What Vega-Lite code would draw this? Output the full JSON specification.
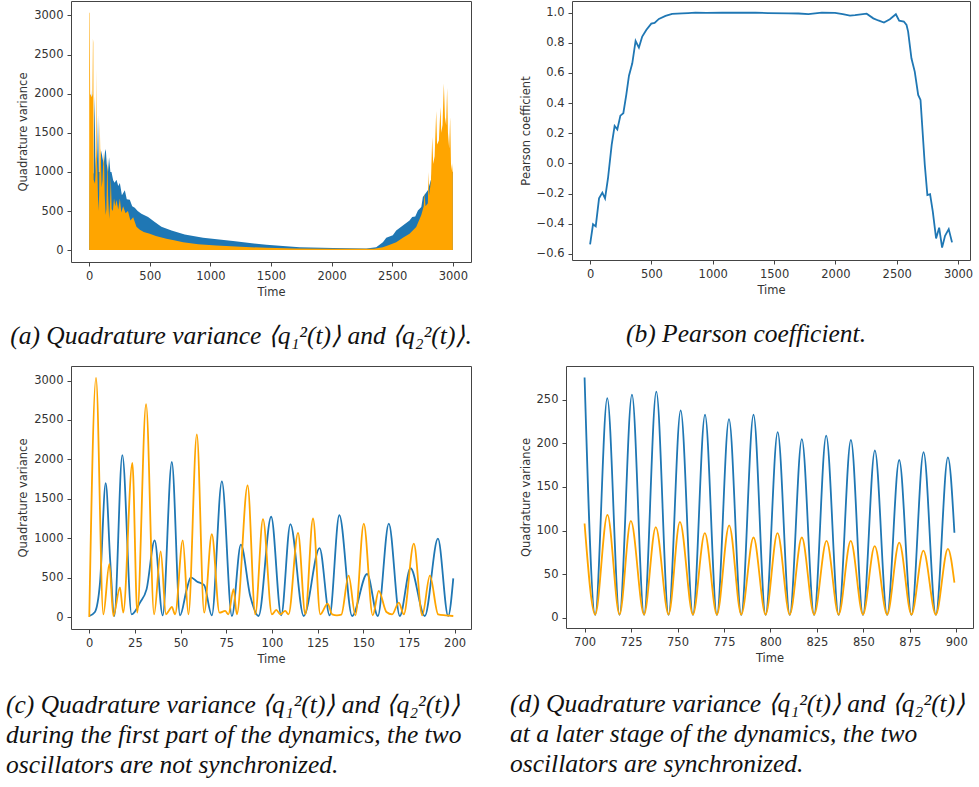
{
  "$schema": "https://vega.github.io/schema/vega-lite/v6.json",
  "background": "white",
  "padding": {"left": 5, "top": 0, "right": 0, "bottom": 0},
  "spacing": 15,
  "vconcat": [
    {
      "bounds": "flush",
      "spacing": 101,
      "hconcat": [
        {
          "width": 400, "height": 261,
          "data": {"name": "qa"},
          "mark": {"type": "area", "interpolate": "linear"},
          "encoding": {
            "x": {"field": "t", "type": "quantitative", "scale": {"domain": [-150, 3150], "nice": false, "zero": false}, "axis": {"title": "Time", "values": [0, 500, 1000, 1500, 2000, 2500, 3000], "format": "d"}},
            "y": {"field": "v", "type": "quantitative", "stack": null, "scale": {"domain": [-152, 3185], "nice": false, "zero": false}, "axis": {"title": "Quadrature variance", "values": [0, 500, 1000, 1500, 2000, 2500, 3000], "format": "d"}},
            "color": {"field": "s", "type": "nominal", "scale": {"domain": ["q1", "q2"], "range": ["#1f77b4", "#ffa500"]}, "legend": null}
          },
          "title": {"text": "(a) Quadrature variance ⟨q₁²(t)⟩ and ⟨q₂²(t)⟩.", "anchor": "middle", "dx": -30}
        },
        {
          "width": 398, "height": 259,
          "data": {"name": "pb"},
          "mark": {"type": "line", "color": "#1f77b4", "strokeWidth": 1.8},
          "encoding": {
            "x": {"field": "t", "type": "quantitative", "scale": {"domain": [-147.5, 3097.5], "nice": false, "zero": false}, "axis": {"title": "Time", "values": [0, 500, 1000, 1500, 2000, 2500, 3000], "format": "d"}},
            "y": {"field": "r", "type": "quantitative", "scale": {"domain": [-0.64, 1.077], "nice": false, "zero": false}, "axis": {"title": "Pearson coefficient", "values": [-0.6, -0.4, -0.2, 0, 0.2, 0.4, 0.6, 0.8, 1.0], "format": ".1f"}}
          },
          "title": {"text": "(b) Pearson coefficient.", "anchor": "middle", "dx": -25}
        }
      ]
    },
    {
      "bounds": "flush",
      "spacing": 95,
      "hconcat": [
        {
          "width": 400, "height": 263,
          "data": {"name": "qc"},
          "mark": {"type": "line", "interpolate": "monotone", "strokeWidth": 1.8},
          "encoding": {
            "x": {"field": "t", "type": "quantitative", "scale": {"domain": [-10, 209], "nice": false, "zero": false}, "axis": {"title": "Time", "values": [0, 25, 50, 75, 100, 125, 150, 175, 200], "format": "d"}},
            "y": {"field": "v", "type": "quantitative", "scale": {"domain": [-152, 3185], "nice": false, "zero": false}, "axis": {"title": "Quadrature variance", "values": [0, 500, 1000, 1500, 2000, 2500, 3000], "format": "d"}},
            "color": {"field": "s", "type": "nominal", "scale": {"domain": ["q1", "q2"], "range": ["#1f77b4", "#ffa500"]}, "legend": null}
          },
          "title": {"text": ["(c) Quadrature variance ⟨q₁²(t)⟩ and ⟨q₂²(t)⟩", "during the first part of the dynamics, the two", "oscillators are not synchronized."], "anchor": "start", "align": "left", "dx": -65, "offset": 28}
        },
        {
          "width": 407, "height": 262,
          "data": {"name": "qd"},
          "mark": {"type": "line", "interpolate": "monotone", "strokeWidth": 1.8},
          "encoding": {
            "x": {"field": "t", "type": "quantitative", "scale": {"domain": [690, 909], "nice": false, "zero": false}, "axis": {"title": "Time", "values": [700, 725, 750, 775, 800, 825, 850, 875, 900], "format": "d"}},
            "y": {"field": "v", "type": "quantitative", "scale": {"domain": [-12, 289], "nice": false, "zero": false}, "axis": {"title": "Quadrature variance", "values": [0, 50, 100, 150, 200, 250], "format": "d"}},
            "color": {"field": "s", "type": "nominal", "scale": {"domain": ["q1", "q2"], "range": ["#1f77b4", "#ffa500"]}, "legend": null}
          },
          "title": {"text": ["(d) Quadrature variance ⟨q₁²(t)⟩ and ⟨q₂²(t)⟩", "at a later stage of the dynamics, the two", "oscillators are synchronized."], "anchor": "start", "align": "left", "dx": -56, "offset": 28}
        }
      ]
    }
  ],
  "datasets": {
    "qa": [
      {"t":0,"s":"q1","v":0},{"t":3,"s":"q1","v":800},{"t":9,"s":"q1","v":1699},{"t":14,"s":"q1","v":1700},{"t":18,"s":"q1","v":2053},{"t":22,"s":"q1","v":1500},{"t":30,"s":"q1","v":1000},{"t":36,"s":"q1","v":973},{"t":41,"s":"q1","v":1700},{"t":45,"s":"q1","v":1967},{"t":50,"s":"q1","v":1200},{"t":60,"s":"q1","v":900},{"t":68,"s":"q1","v":1300},{"t":73,"s":"q1","v":1720},{"t":80,"s":"q1","v":1000},{"t":90,"s":"q1","v":1000},{"t":100,"s":"q1","v":1272},{"t":110,"s":"q1","v":1178},{"t":120,"s":"q1","v":1100},{"t":130,"s":"q1","v":1250},{"t":137,"s":"q1","v":1293},{"t":145,"s":"q1","v":1100},{"t":155,"s":"q1","v":1000},{"t":164,"s":"q1","v":1186},{"t":175,"s":"q1","v":1000},{"t":184,"s":"q1","v":999},{"t":198,"s":"q1","v":892},{"t":210,"s":"q1","v":860},{"t":225,"s":"q1","v":900},{"t":240,"s":"q1","v":820},{"t":253,"s":"q1","v":858},{"t":270,"s":"q1","v":700},{"t":294,"s":"q1","v":764},{"t":310,"s":"q1","v":650},{"t":335,"s":"q1","v":645},{"t":355,"s":"q1","v":560},{"t":376,"s":"q1","v":542},{"t":400,"s":"q1","v":500},{"t":431,"s":"q1","v":465},{"t":486,"s":"q1","v":423},{"t":541,"s":"q1","v":358},{"t":596,"s":"q1","v":300},{"t":679,"s":"q1","v":252},{"t":788,"s":"q1","v":200},{"t":940,"s":"q1","v":158},{"t":1187,"s":"q1","v":115},{"t":1462,"s":"q1","v":68},{"t":1736,"s":"q1","v":38},{"t":2011,"s":"q1","v":26},{"t":2286,"s":"q1","v":21},{"t":2368,"s":"q1","v":38},{"t":2423,"s":"q1","v":102},{"t":2451,"s":"q1","v":158},{"t":2505,"s":"q1","v":190},{"t":2533,"s":"q1","v":252},{"t":2588,"s":"q1","v":316},{"t":2643,"s":"q1","v":380},{"t":2665,"s":"q1","v":422},{"t":2690,"s":"q1","v":430},{"t":2712,"s":"q1","v":508},{"t":2740,"s":"q1","v":550},{"t":2753,"s":"q1","v":679},{"t":2794,"s":"q1","v":764},{"t":2820,"s":"q1","v":900},{"t":2849,"s":"q1","v":1148},{"t":2880,"s":"q1","v":1100},{"t":2904,"s":"q1","v":1200},{"t":2930,"s":"q1","v":1250},{"t":2960,"s":"q1","v":1361},{"t":2975,"s":"q1","v":1000},{"t":3000,"s":"q1","v":1000},{"t":3000.1,"s":"q1","v":0},
      {"t":0,"s":"q2","v":0},{"t":0.5,"s":"q2","v":3035},{"t":4,"s":"q2","v":3035},{"t":8,"s":"q2","v":2000},{"t":22,"s":"q2","v":1955},{"t":27,"s":"q2","v":2000},{"t":31,"s":"q2","v":2702},{"t":34,"s":"q2","v":2650},{"t":37,"s":"q2","v":900},{"t":48,"s":"q2","v":850},{"t":52,"s":"q2","v":973},{"t":56,"s":"q2","v":1500},{"t":59,"s":"q2","v":2318},{"t":62,"s":"q2","v":1300},{"t":67,"s":"q2","v":1050},{"t":75,"s":"q2","v":500},{"t":82,"s":"q2","v":700},{"t":87,"s":"q2","v":1669},{"t":91,"s":"q2","v":1300},{"t":95,"s":"q2","v":1242},{"t":103,"s":"q2","v":800},{"t":110,"s":"q2","v":900},{"t":114,"s":"q2","v":1067},{"t":122,"s":"q2","v":1250},{"t":128,"s":"q2","v":700},{"t":136,"s":"q2","v":450},{"t":142,"s":"q2","v":525},{"t":150,"s":"q2","v":1186},{"t":156,"s":"q2","v":700},{"t":165,"s":"q2","v":400},{"t":172,"s":"q2","v":600},{"t":178,"s":"q2","v":930},{"t":186,"s":"q2","v":525},{"t":195,"s":"q2","v":500},{"t":205,"s":"q2","v":660},{"t":215,"s":"q2","v":560},{"t":225,"s":"q2","v":640},{"t":240,"s":"q2","v":520},{"t":253,"s":"q2","v":660},{"t":265,"s":"q2","v":480},{"t":280,"s":"q2","v":560},{"t":300,"s":"q2","v":470},{"t":320,"s":"q2","v":500},{"t":340,"s":"q2","v":380},{"t":363,"s":"q2","v":420},{"t":390,"s":"q2","v":300},{"t":418,"s":"q2","v":260},{"t":450,"s":"q2","v":230},{"t":500,"s":"q2","v":209},{"t":550,"s":"q2","v":180},{"t":637,"s":"q2","v":145},{"t":700,"s":"q2","v":125},{"t":775,"s":"q2","v":102},{"t":900,"s":"q2","v":75},{"t":1049,"s":"q2","v":60},{"t":1250,"s":"q2","v":42},{"t":1462,"s":"q2","v":30},{"t":1700,"s":"q2","v":22},{"t":2011,"s":"q2","v":17},{"t":2286,"s":"q2","v":16},{"t":2350,"s":"q2","v":18},{"t":2423,"s":"q2","v":38},{"t":2480,"s":"q2","v":70},{"t":2533,"s":"q2","v":102},{"t":2588,"s":"q2","v":158},{"t":2643,"s":"q2","v":209},{"t":2698,"s":"q2","v":294},{"t":2740,"s":"q2","v":450},{"t":2760,"s":"q2","v":560},{"t":2766,"s":"q2","v":730},{"t":2775,"s":"q2","v":560},{"t":2794,"s":"q2","v":600},{"t":2800,"s":"q2","v":999},{"t":2806,"s":"q2","v":700},{"t":2820,"s":"q2","v":900},{"t":2830,"s":"q2","v":1447},{"t":2838,"s":"q2","v":1100},{"t":2850,"s":"q2","v":1200},{"t":2863,"s":"q2","v":1780},{"t":2870,"s":"q2","v":1350},{"t":2885,"s":"q2","v":1400},{"t":2898,"s":"q2","v":1831},{"t":2905,"s":"q2","v":1500},{"t":2915,"s":"q2","v":1600},{"t":2926,"s":"q2","v":2130},{"t":2935,"s":"q2","v":1700},{"t":2945,"s":"q2","v":1600},{"t":2953,"s":"q2","v":2074},{"t":2960,"s":"q2","v":1500},{"t":2970,"s":"q2","v":1300},{"t":2978,"s":"q2","v":1703},{"t":2985,"s":"q2","v":1100},{"t":2995,"s":"q2","v":1000},{"t":3000,"s":"q2","v":1114},{"t":3000.1,"s":"q2","v":0}
    ],
    "pb": [
      {"t":0,"r":-0.536},{"t":24,"r":-0.403},{"t":46,"r":-0.417},{"t":73,"r":-0.231},{"t":100,"r":-0.193},{"t":122,"r":-0.231},{"t":146,"r":-0.098},{"t":176,"r":0.123},{"t":200,"r":0.249},{"t":222,"r":0.226},{"t":247,"r":0.317},{"t":271,"r":0.333},{"t":295,"r":0.454},{"t":317,"r":0.582},{"t":344,"r":0.664},{"t":371,"r":0.812},{"t":398,"r":0.768},{"t":425,"r":0.841},{"t":458,"r":0.885},{"t":499,"r":0.927},{"t":526,"r":0.932},{"t":561,"r":0.958},{"t":615,"r":0.978},{"t":669,"r":0.991},{"t":751,"r":0.995},{"t":800,"r":0.997},{"t":859,"r":1.0},{"t":950,"r":0.998},{"t":1076,"r":1.0},{"t":1200,"r":0.999},{"t":1347,"r":1.0},{"t":1450,"r":0.997},{"t":1618,"r":0.995},{"t":1700,"r":0.994},{"t":1780,"r":0.99},{"t":1889,"r":1.0},{"t":1997,"r":0.998},{"t":2060,"r":0.99},{"t":2119,"r":0.98},{"t":2160,"r":0.983},{"t":2255,"r":0.993},{"t":2309,"r":0.962},{"t":2350,"r":0.948},{"t":2396,"r":0.934},{"t":2444,"r":0.956},{"t":2493,"r":0.989},{"t":2520,"r":0.946},{"t":2558,"r":0.941},{"t":2580,"r":0.918},{"t":2593,"r":0.874},{"t":2620,"r":0.697},{"t":2647,"r":0.609},{"t":2675,"r":0.454},{"t":2694,"r":0.421},{"t":2729,"r":-0.01},{"t":2750,"r":-0.209},{"t":2772,"r":-0.203},{"t":2794,"r":-0.318},{"t":2821,"r":-0.497},{"t":2846,"r":-0.426},{"t":2870,"r":-0.558},{"t":2894,"r":-0.479},{"t":2924,"r":-0.435},{"t":2951,"r":-0.523}
    ],
    "qc": [
      {"t":0,"s":"q1","v":13},{"t":3,"s":"q1","v":60},{"t":5.9,"s":"q1","v":440},{"t":9,"s":"q1","v":1699},{"t":11.5,"s":"q1","v":700},{"t":13.7,"s":"q1","v":13},{"t":18.1,"s":"q1","v":2053},{"t":23.2,"s":"q1","v":34},{"t":27.8,"s":"q1","v":183},{"t":31.4,"s":"q1","v":354},{"t":35.8,"s":"q1","v":973},{"t":40.2,"s":"q1","v":21},{"t":45.2,"s":"q1","v":1967},{"t":49.7,"s":"q1","v":21},{"t":53.4,"s":"q1","v":354},{"t":55.6,"s":"q1","v":504},{"t":58.9,"s":"q1","v":452},{"t":62.9,"s":"q1","v":405},{"t":67.1,"s":"q1","v":21},{"t":72.6,"s":"q1","v":1720},{"t":78.1,"s":"q1","v":13},{"t":83,"s":"q1","v":918},{"t":88.1,"s":"q1","v":269},{"t":92.7,"s":"q1","v":13},{"t":99.6,"s":"q1","v":1272},{"t":105.1,"s":"q1","v":21},{"t":110.1,"s":"q1","v":1178},{"t":117.4,"s":"q1","v":13},{"t":126.1,"s":"q1","v":875},{"t":131.6,"s":"q1","v":21},{"t":136.9,"s":"q1","v":1293},{"t":143.9,"s":"q1","v":13},{"t":152.1,"s":"q1","v":546},{"t":158,"s":"q1","v":13},{"t":164,"s":"q1","v":1186},{"t":170,"s":"q1","v":13},{"t":175.9,"s":"q1","v":619},{"t":183.7,"s":"q1","v":13},{"t":190.9,"s":"q1","v":994},{"t":196.5,"s":"q1","v":13},{"t":199.3,"s":"q1","v":491},
      {"t":0,"s":"q2","v":0},{"t":3.7,"s":"q2","v":3035},{"t":7.7,"s":"q2","v":34},{"t":11,"s":"q2","v":674},{"t":13.2,"s":"q2","v":13},{"t":16.8,"s":"q2","v":376},{"t":18.6,"s":"q2","v":55},{"t":23.6,"s":"q2","v":1955},{"t":26.3,"s":"q2","v":55},{"t":31.1,"s":"q2","v":2702},{"t":35.5,"s":"q2","v":34},{"t":39.1,"s":"q2","v":832},{"t":42,"s":"q2","v":34},{"t":43.5,"s":"q2","v":77},{"t":45.2,"s":"q2","v":128},{"t":47,"s":"q2","v":34},{"t":51.2,"s":"q2","v":973},{"t":54.3,"s":"q2","v":34},{"t":58.9,"s":"q2","v":2318},{"t":62.9,"s":"q2","v":55},{"t":67.1,"s":"q2","v":1050},{"t":71.3,"s":"q2","v":55},{"t":74.4,"s":"q2","v":77},{"t":76.2,"s":"q2","v":34},{"t":79,"s":"q2","v":354},{"t":80.8,"s":"q2","v":34},{"t":86.7,"s":"q2","v":1669},{"t":90.9,"s":"q2","v":34},{"t":95.1,"s":"q2","v":1242},{"t":100,"s":"q2","v":34},{"t":102.4,"s":"q2","v":90},{"t":104.6,"s":"q2","v":34},{"t":107.3,"s":"q2","v":77},{"t":109.1,"s":"q2","v":34},{"t":114.3,"s":"q2","v":1067},{"t":118.3,"s":"q2","v":34},{"t":122.5,"s":"q2","v":1250},{"t":126.5,"s":"q2","v":34},{"t":130.5,"s":"q2","v":170},{"t":133,"s":"q2","v":34},{"t":135.6,"s":"q2","v":21},{"t":138,"s":"q2","v":30},{"t":142,"s":"q2","v":525},{"t":145.7,"s":"q2","v":21},{"t":150.3,"s":"q2","v":1186},{"t":155.2,"s":"q2","v":21},{"t":158.5,"s":"q2","v":333},{"t":162.7,"s":"q2","v":64},{"t":165.8,"s":"q2","v":34},{"t":169.5,"s":"q2","v":183},{"t":172.2,"s":"q2","v":34},{"t":177.7,"s":"q2","v":930},{"t":182.3,"s":"q2","v":21},{"t":186.5,"s":"q2","v":525},{"t":191,"s":"q2","v":34},{"t":195,"s":"q2","v":21},{"t":199.3,"s":"q2","v":13}
    ],
    "qd": [
      {"t":700,"s":"q1","v":275.7},{"t":705.7,"s":"q1","v":3},{"t":712.2,"s":"q1","v":252},{"t":718.8,"s":"q1","v":3},{"t":725.5,"s":"q1","v":256},{"t":732,"s":"q1","v":3},{"t":738.6,"s":"q1","v":259.5},{"t":745.2,"s":"q1","v":3},{"t":751.7,"s":"q1","v":238},{"t":758.3,"s":"q1","v":3},{"t":764.8,"s":"q1","v":233},{"t":771.2,"s":"q1","v":3},{"t":777.7,"s":"q1","v":228},{"t":784.3,"s":"q1","v":3},{"t":790.9,"s":"q1","v":233},{"t":797.4,"s":"q1","v":3},{"t":803.9,"s":"q1","v":213},{"t":810.4,"s":"q1","v":3},{"t":816.9,"s":"q1","v":205},{"t":823.5,"s":"q1","v":3},{"t":830,"s":"q1","v":209},{"t":836.7,"s":"q1","v":3},{"t":843.3,"s":"q1","v":204},{"t":849.8,"s":"q1","v":3},{"t":856.2,"s":"q1","v":192},{"t":862.8,"s":"q1","v":3},{"t":869.3,"s":"q1","v":181},{"t":875.9,"s":"q1","v":3},{"t":882.4,"s":"q1","v":190},{"t":889,"s":"q1","v":3},{"t":895.5,"s":"q1","v":184},{"t":899,"s":"q1","v":97.5},
      {"t":700,"s":"q2","v":108},{"t":705.7,"s":"q2","v":3.5},{"t":712.3,"s":"q2","v":118},{"t":718.8,"s":"q2","v":3.5},{"t":724.9,"s":"q2","v":111},{"t":732,"s":"q2","v":3.5},{"t":738.3,"s":"q2","v":104},{"t":745.2,"s":"q2","v":3.5},{"t":751.3,"s":"q2","v":110},{"t":758.3,"s":"q2","v":3.5},{"t":764.7,"s":"q2","v":97},{"t":771.2,"s":"q2","v":3.5},{"t":777.8,"s":"q2","v":106},{"t":784.3,"s":"q2","v":3.5},{"t":790.9,"s":"q2","v":92},{"t":797.4,"s":"q2","v":3.5},{"t":803.8,"s":"q2","v":97},{"t":810.4,"s":"q2","v":3.5},{"t":816.9,"s":"q2","v":92},{"t":823.5,"s":"q2","v":3.5},{"t":830.2,"s":"q2","v":88},{"t":836.7,"s":"q2","v":3.5},{"t":843.2,"s":"q2","v":88},{"t":849.8,"s":"q2","v":3.5},{"t":856.1,"s":"q2","v":82},{"t":862.8,"s":"q2","v":3.5},{"t":869.3,"s":"q2","v":86},{"t":875.9,"s":"q2","v":3.5},{"t":882.3,"s":"q2","v":77},{"t":889,"s":"q2","v":3.5},{"t":895.5,"s":"q2","v":79},{"t":899,"s":"q2","v":40}
    ]
  },
  "config": {
    "view": {"stroke": "#444", "strokeWidth": 1},
    "axis": {"domain": false, "grid": false, "tickColor": "#444", "tickSize": 4, "tickWidth": 1, "labelPadding": 4, "titlePadding": 5, "labelFont": "DejaVu Sans", "titleFont": "DejaVu Sans", "labelFontSize": 11.5, "titleFontSize": 11.5, "titleFontWeight": "normal", "labelColor": "#333", "titleColor": "#333", "labelFlush": false, "labelOverlap": false},
    "title": {"font": "Liberation Serif", "fontStyle": "italic", "fontWeight": "normal", "fontSize": 25.5, "color": "#111", "orient": "bottom", "offset": 26, "frame": "group", "lineHeight": 30}
  }
}
